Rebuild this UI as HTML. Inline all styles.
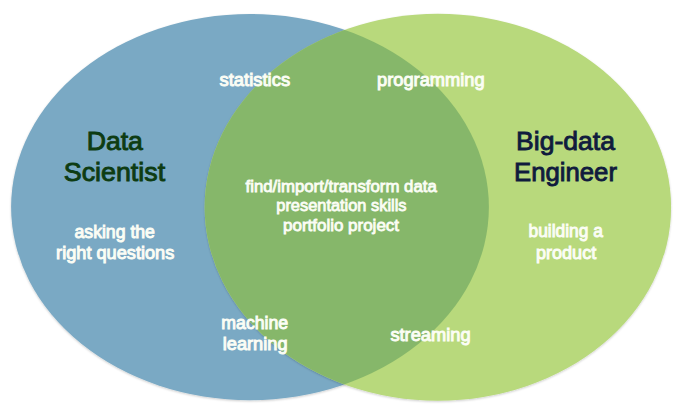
<!DOCTYPE html>
<html><head><meta charset="utf-8">
<style>
html,body{margin:0;padding:0;background:#fff;}
body{width:680px;height:412px;overflow:hidden;}
svg{display:block;}
text{font-family:"Liberation Sans",sans-serif;font-weight:normal;}
</style></head><body>
<svg width="680" height="412" viewBox="0 0 680 412">
<defs>
<filter id="sh" x="-5%" y="-5%" width="110%" height="112%"><feGaussianBlur in="SourceAlpha" stdDeviation="1.0"/><feOffset dy="1.0" result="b"/><feFlood flood-color="#000" flood-opacity="0.2"/><feComposite in2="b" operator="in"/><feMerge><feMergeNode/><feMergeNode in="SourceGraphic"/></feMerge></filter>
<clipPath id="cl"><ellipse cx="250" cy="207.05" rx="238.9" ry="193.1"/></clipPath>
</defs>
<ellipse cx="250" cy="207.05" rx="238.9" ry="193.1" fill="#7aa9c4" filter="url(#sh)"/>
<ellipse cx="437.9" cy="207.2" rx="233.2" ry="193.5" fill="#b8d97c" filter="url(#sh)"/>
<ellipse cx="437.9" cy="207.2" rx="233.2" ry="193.5" fill="#86b76a" clip-path="url(#cl)"/>
<text x="86.70" y="150.00" font-size="26" fill="#0d3c12" stroke="#0d3c12" stroke-width="0.9" textLength="56.22" lengthAdjust="spacingAndGlyphs">Data</text>
<text x="63.80" y="181.30" font-size="26" fill="#0d3c12" stroke="#0d3c12" stroke-width="0.9" textLength="101.31" lengthAdjust="spacingAndGlyphs">Scientist</text>
<text x="516.10" y="149.80" font-size="26" fill="#101b3d" stroke="#101b3d" stroke-width="0.9" textLength="98.80" lengthAdjust="spacingAndGlyphs">Big-data</text>
<text x="514.00" y="181.00" font-size="26" fill="#101b3d" stroke="#101b3d" stroke-width="0.9" textLength="103.00" lengthAdjust="spacingAndGlyphs">Engineer</text>
<text x="219.50" y="86.00" font-size="18" fill="#fbfdf5" stroke="#fbfdf5" stroke-width="0.95" textLength="70.62" lengthAdjust="spacingAndGlyphs">statistics</text>
<text x="377.00" y="86.00" font-size="18" fill="#fbfdf5" stroke="#fbfdf5" stroke-width="0.95" textLength="107.62" lengthAdjust="spacingAndGlyphs">programming</text>
<text x="74.50" y="237.70" font-size="18" fill="#fbfdf5" stroke="#fbfdf5" stroke-width="0.95" textLength="80.43" lengthAdjust="spacingAndGlyphs">asking the</text>
<text x="56.10" y="258.60" font-size="18" fill="#fbfdf5" stroke="#fbfdf5" stroke-width="0.95" textLength="118.21" lengthAdjust="spacingAndGlyphs">right questions</text>
<text x="528.50" y="237.40" font-size="18" fill="#fbfdf5" stroke="#fbfdf5" stroke-width="0.95" textLength="74.43" lengthAdjust="spacingAndGlyphs">building a</text>
<text x="536.00" y="259.00" font-size="18" fill="#fbfdf5" stroke="#fbfdf5" stroke-width="0.95" textLength="60.21" lengthAdjust="spacingAndGlyphs">product</text>
<text x="221.30" y="328.80" font-size="18" fill="#fbfdf5" stroke="#fbfdf5" stroke-width="0.95" textLength="66.93" lengthAdjust="spacingAndGlyphs">machine</text>
<text x="222.75" y="350.00" font-size="18" fill="#fbfdf5" stroke="#fbfdf5" stroke-width="0.95" textLength="64.77" lengthAdjust="spacingAndGlyphs">learning</text>
<text x="390.40" y="340.50" font-size="18" fill="#fbfdf5" stroke="#fbfdf5" stroke-width="0.95" textLength="80.21" lengthAdjust="spacingAndGlyphs">streaming</text>
<text x="245.50" y="192.20" font-size="16" fill="#fbfdf5" stroke="#fbfdf5" stroke-width="0.8" textLength="191.22" lengthAdjust="spacingAndGlyphs">find/import/transform data</text>
<text x="276.30" y="211.40" font-size="16" fill="#fbfdf5" stroke="#fbfdf5" stroke-width="0.8" textLength="130.21" lengthAdjust="spacingAndGlyphs">presentation skills</text>
<text x="283.10" y="230.80" font-size="16" fill="#fbfdf5" stroke="#fbfdf5" stroke-width="0.8" textLength="115.90" lengthAdjust="spacingAndGlyphs">portfolio project</text>
</svg>
</body></html>
